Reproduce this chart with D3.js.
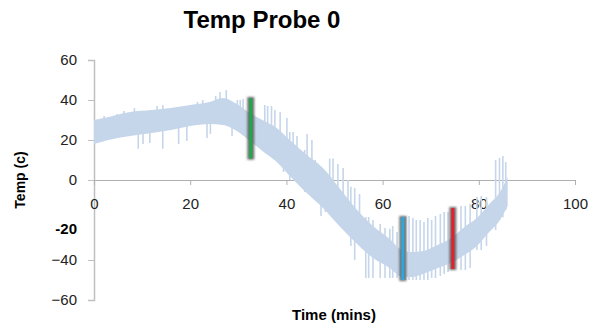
<!DOCTYPE html>
<html>
<head>
<meta charset="utf-8">
<script src="https://cdn.jsdelivr.net/npm/d3@7"></script>
<style>
  html, body { margin: 0; padding: 0; background: #fff; }
  svg { display: block; font-family: "Liberation Sans", Arial, sans-serif; }
</style>
</head>
<body>
<svg id="chart" width="590" height="327"></svg>
<script>
// band of the noisy probe reading (time in mins, low / high temp in c)
const bandTime = [0, 3, 7.5, 12, 16, 20, 24, 26.8, 29.7, 32.4, 35, 38, 40.7, 44, 47.6, 51, 54.7, 58, 61.5, 64, 66, 68.4, 71, 74.6, 77, 79.6, 82, 84.4, 86]
const bandHigh = [30, 31.5, 34, 35, 36, 37.5, 39, 41, 38, 33.5, 30, 26, 20, 13, 6, -4, -15, -23, -29.5, -35, -36, -35.5, -33, -28.5, -23.5, -19, -12.5, -6, 1.5]
const bandLow = [18, 20, 22, 23.5, 25, 27, 28, 27.5, 24.5, 19.5, 14.5, 9, 2, -6, -14, -23, -32, -39, -44, -48.5, -48.5, -47, -44.5, -41, -37.5, -33, -26.5, -20, -13]

// single noisy spikes: [time, low, high]
const spikes = [
  [2.1, 22, 32], [4.8, 23, 33], [6.2, 23, 34.5], [8.4, 24, 36],
  [9.2, 15.6, 25], [10.2, 18, 25], [11.6, 18.5, 25], [13.1, 26, 37], [14.3, 15.6, 37.5], [17.6, 18, 30],
  [19.3, 19.5, 30], [21.5, 29, 39], [22.6, 29, 40], [23.5, 21, 30], [24.2, 23, 30], [25.3, 30, 42],
  [26.2, 30, 44], [27.5, 30, 45], [28.7, 22, 39], [29.8, 30, 40], [30.4, 30, 40], [31.0, 30, 40.5],
  [35.5, 20, 37.5], [36.1, 20, 37], [36.9, 18, 37], [37.6, 18, 35], [38.7, 15, 34],
  [39.4, 4, 20], [40.1, 10, 31], [40.7, 0, 24], [41.4, 5, 24], [42.2, 5, 22], [42.8, -1.5, 15],
  [43.8, -6, 15], [44.3, 0, 23], [45.3, 0, 20], [46, -10, 10], [47.2, -18, 0], [48.1, -16, 2], [49, -5, 10.7],
  [49.7, -5, 10.7], [50.7, -8, 8], [51.8, -18.5, 6], [52.8, -24, 0], [53.4, -33, -3.4],
  [54.2, -40, -4], [55.2, -30, -7], [56.5, -49, -18.5], [57.1, -49, -18.5], [58, -49, -20],
  [59.5, -49, -22], [60.5, -49, -24], [61.5, -49, -24.4], [62.1, -49, -23], [63, -49, -26],
  [64.8, -50, -18], [65.5, -50, -18], [66.3, -50, -19], [67, -50, -20], [67.8, -50, -20],
  [68.6, -50, -21], [69.4, -50, -19], [70.2, -49, -20], [71, -49, -18], [72, -48, -17],
  [72.8, -47, -16], [73.6, -46, -16], [76.3, -45, -13], [77.2, -45, -13], [78.2, -44, -12],
  [79.6, -35, -8.5], [80.5, -35, -8], [81.6, -33, -8.5], [83.5, -25, 10], [84.3, -20, 11],
  [85.0, -18.6, 12], [85.6, -15, 9]
]

// highlighted samples
const markerTime = [32.6, 64.2, 74.6]
const markerLow = [10.7, -50, -44.5]
const markerHigh = [41, -18.5, -14]
const markerColor = ['#1fa84a', '#2ea8dc', '#e3202b']

const xTicks = [0, 20, 40, 60, 80, 100]
const yTicks = [60, 40, 20, 0, -40, -60]

const svg = d3.select('#chart')
const x = d3.scaleLinear().domain([0, 100]).range([94, 575])
const y = d3.scaleLinear().domain([-60, 60]).range([300, 60])
const bandColor = '#c6d6ea'

const defs = svg.append('defs')
defs.append('filter').attr('id', 'halo')
  .attr('x', '-100%').attr('y', '-20%').attr('width', '300%').attr('height', '140%')
  .append('feGaussianBlur').attr('stdDeviation', 1.3)

// title
svg.append('text')
  .attr('x', 262).attr('y', 28)
  .attr('text-anchor', 'middle')
  .attr('font-size', 24).attr('font-weight', 'bold')
  .attr('fill', '#000')
  .text('Temp Probe 0')

// y axis
const yAxis = svg.append('g')
  .attr('transform', `translate(${x(0)},0)`)
  .call(d3.axisLeft(y).tickValues(yTicks).tickSize(6).tickPadding(11))
yAxis.select('.domain').attr('stroke', '#c0c0c0').attr('stroke-width', 1.5)
yAxis.selectAll('.tick line').attr('stroke', '#c0c0c0')
yAxis.selectAll('.tick text').attr('font-size', 15).attr('fill', '#222')
  .attr('font-family', '"Liberation Sans", Arial, sans-serif')

// the odd bold -20 label
svg.append('text')
  .attr('x', 77).attr('y', y(-20) + 9)
  .attr('dy', '0.35em')
  .attr('text-anchor', 'end')
  .attr('font-size', 15).attr('font-weight', 'bold')
  .attr('fill', '#000')
  .text('-20')

// x axis on zero line
const xAxis = svg.append('g')
  .attr('transform', `translate(0,${y(0)})`)
  .call(d3.axisBottom(x).tickValues(xTicks).tickSize(5).tickPadding(13).tickSizeOuter(0))
xAxis.select('.domain').attr('stroke', '#b0b0b0').attr('stroke-width', 1.2)
xAxis.selectAll('.tick line').attr('stroke', '#b0b0b0')
xAxis.selectAll('.tick text').attr('font-size', 15).attr('fill', '#222')
  .attr('font-family', '"Liberation Sans", Arial, sans-serif')

// noisy band
const bandData = bandTime.map((t, i) => ({ t, lo: bandLow[i], hi: bandHigh[i] }))
svg.append('path')
  .datum(bandData)
  .attr('fill', bandColor)
  .attr('d', d3.area()
    .x(d => x(d.t))
    .y0(d => y(d.lo))
    .y1(d => y(d.hi))
    .curve(d3.curveMonotoneX))

svg.append('g')
  .selectAll('line')
  .data(spikes)
  .join('line')
  .attr('x1', d => x(d[0])).attr('x2', d => x(d[0]))
  .attr('y1', d => y(d[1])).attr('y2', d => y(d[2]))
  .attr('stroke', bandColor)
  .attr('stroke-width', 1.6)

// markers with grey halo
const markers = markerTime.map((t, i) => ({ t, lo: markerLow[i], hi: markerHigh[i], c: markerColor[i] }))
const mk = svg.append('g').selectAll('g').data(markers).join('g')
mk.append('rect')
  .attr('x', d => x(d.t) - 3.5).attr('width', 7)
  .attr('y', d => y(d.hi) - 1)
  .attr('height', d => y(d.lo) - y(d.hi) + 2)
  .attr('fill', '#5a5a5a').attr('fill-opacity', 0.85)
  .attr('filter', 'url(#halo)')
mk.append('line')
  .attr('x1', d => x(d.t)).attr('x2', d => x(d.t))
  .attr('y1', d => y(d.lo)).attr('y2', d => y(d.hi))
  .attr('stroke', d => d.c)
  .attr('stroke-width', 3)

// axis titles
svg.append('text')
  .attr('transform', 'translate(25,180) rotate(-90)')
  .attr('text-anchor', 'middle')
  .attr('font-size', 14).attr('font-weight', 'bold')
  .attr('fill', '#000')
  .text('Temp (c)')

svg.append('text')
  .attr('x', 334).attr('y', 320)
  .attr('text-anchor', 'middle')
  .attr('font-size', 15).attr('font-weight', 'bold')
  .attr('fill', '#000')
  .text('Time (mins)')
</script>
</body>
</html>
